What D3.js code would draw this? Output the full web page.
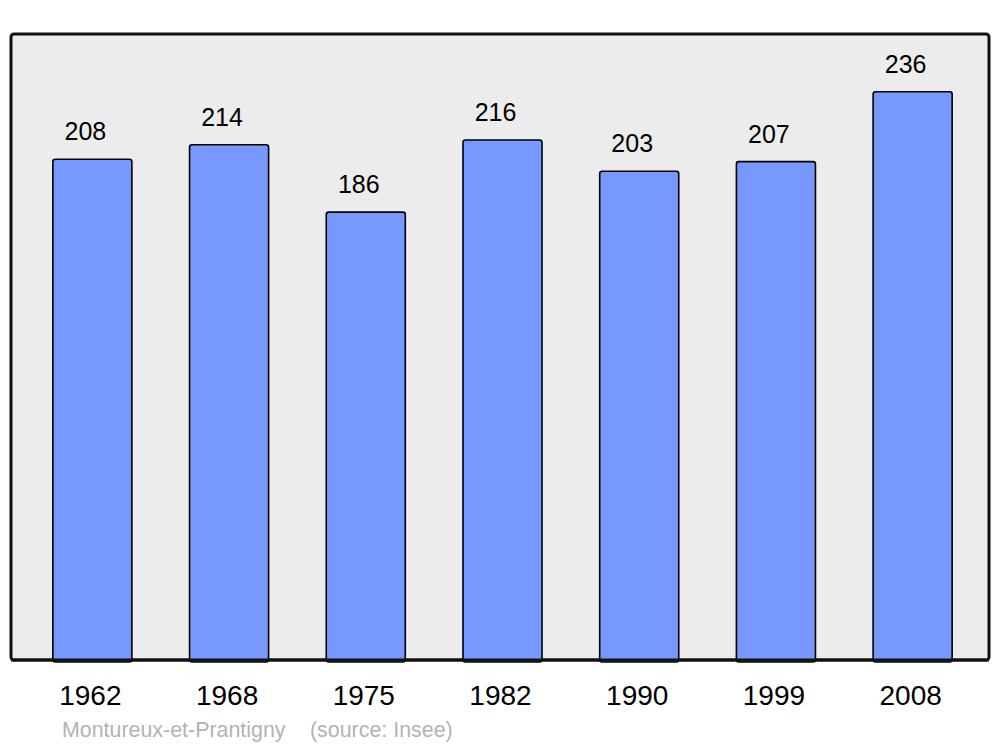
<!DOCTYPE html>
<html><head><meta charset="utf-8">
<script src="https://cdn.jsdelivr.net/npm/d3@7"></script>
<style>body{margin:0;background:#fff}svg{display:block}</style>
</head><body>
<script>
const years = ["1962","1968","1975","1982","1990","1999","2008"];
const population = [208,214,186,216,203,207,236];
const commune = "Montureux-et-Prantigny";
const source = "(source: Insee)";

const W = 1000, H = 747;
const svg = d3.select("body").append("svg").attr("width", W).attr("height", H);
const font = "'Liberation Sans', Arial, sans-serif";

const frame = {x0: 11, x1: 989, y0: 34, y1: 660};
svg.append("rect").attr("x", frame.x0).attr("y", frame.y0)
  .attr("width", frame.x1 - frame.x0).attr("height", frame.y1 - frame.y0)
  .attr("rx", 3).attr("fill", "#ececec").attr("stroke", "#111").attr("stroke-width", 3);

const x = d3.scaleBand().domain(years).range([24, 981]).paddingInner(0.422).paddingOuter(0.211);
const y = d3.scaleLinear().domain([0, 260]).range([frame.y1, frame.y0]);

svg.append("g").selectAll("rect").data(years).join("rect")
  .attr("x", d => x(d)).attr("width", x.bandwidth())
  .attr("y", (d, i) => y(population[i])).attr("height", (d, i) => y(0) - y(population[i]) + 2)
  .attr("rx", 2.5).attr("fill", "#7799ff").attr("stroke", "#000").attr("stroke-width", 1.6);

svg.append("line").attr("x1", frame.x0).attr("x2", frame.x1).attr("y1", frame.y1).attr("y2", frame.y1)
  .attr("stroke", "#111").attr("stroke-width", 3);

svg.append("g").selectAll("text").data(years).join("text")
  .attr("x", d => x(d) + x.bandwidth() / 2 - 7)
  .attr("y", (d, i) => y(population[i]) - 19)
  .attr("text-anchor", "middle").attr("font-family", font).attr("font-size", 25).attr("fill", "#000")
  .text((d, i) => population[i]);

const xAxis = d3.axisBottom(x).tickSize(0).tickPadding(0);
const ax = svg.append("g").attr("transform", `translate(-2,${frame.y1})`).call(xAxis);
ax.select(".domain").remove();
ax.selectAll("text").attr("font-family", font).attr("font-size", 28).attr("fill", "#000")
  .attr("dy", null).attr("y", 45);

svg.append("text").attr("x", 62).attr("y", 737).attr("font-family", font).attr("font-size", 21.4)
  .attr("fill", "#b3b3b3").text(commune);
svg.append("text").attr("x", 310).attr("y", 737).attr("font-family", font).attr("font-size", 21.4)
  .attr("fill", "#b3b3b3").text(source);
</script>
</body></html>
